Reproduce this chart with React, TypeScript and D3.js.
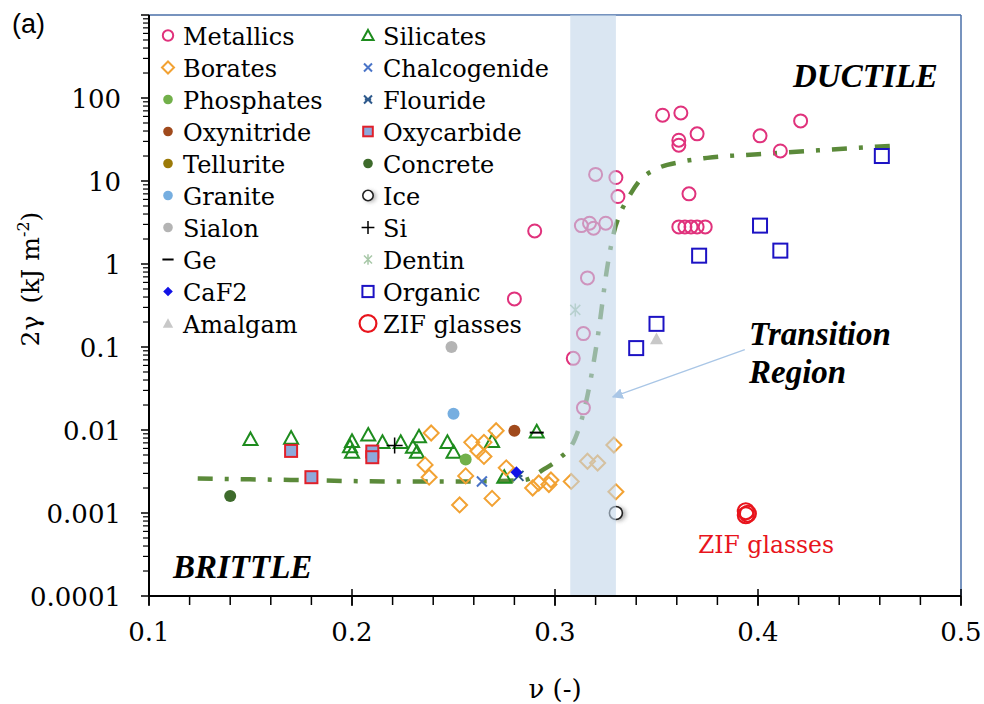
import React from "react";
import * as d3 from "d3";

// nu (-) , 2gamma (kJ m^-2)
const metallics = [
  [0.353, 62], [0.362, 66], [0.361, 31], [0.361, 27], [0.370, 37], [0.401, 35], [0.421, 53], [0.411, 23],
  [0.366, 7], [0.361, 2.8], [0.364, 2.8], [0.367, 2.8], [0.370, 2.8], [0.374, 2.8],
  [0.330, 11], [0.331, 6.5], [0.320, 12], [0.313, 2.9], [0.317, 3.1], [0.319, 2.7], [0.325, 3.1],
  [0.290, 2.5], [0.280, 0.38], [0.316, 0.68], [0.314, 0.145], [0.309, 0.073], [0.314, 0.0185],
];
const borates = [
  [0.239, 0.0092], [0.236, 0.0038], [0.238, 0.0027], [0.259, 0.0071], [0.265, 0.0071], [0.262, 0.0056],
  [0.265, 0.0048], [0.271, 0.0098], [0.256, 0.0028], [0.253, 0.00125], [0.269, 0.0015], [0.276, 0.0035],
  [0.289, 0.0020], [0.292, 0.0023], [0.297, 0.0022], [0.298, 0.0025], [0.308, 0.0024], [0.316, 0.0042],
  [0.321, 0.0040], [0.329, 0.0066], [0.330, 0.0018],
];
const silicates = [
  [0.150, 0.0077], [0.170, 0.0080], [0.200, 0.0073], [0.199, 0.0063], [0.200, 0.0054], [0.208, 0.0087],
  [0.215, 0.0071], [0.224, 0.0071], [0.230, 0.0062], [0.233, 0.0083], [0.232, 0.0054], [0.247, 0.0071],
  [0.250, 0.0054], [0.269, 0.0073], [0.275, 0.0027], [0.291, 0.0095],
];
const phosphates = [[0.256, 0.0044]];
const oxynitride = [[0.280, 0.0098]];
const tellurite: number[][] = [];
const granite = [[0.250, 0.0157]];
const sialon = [[0.249, 0.10]];
const ge = [[0.291, 0.0093]];
const caf2 = [[0.281, 0.0031]];
const amalgam = [[0.350, 0.125]];
const chalcogenide = [[0.264, 0.0024]];
const flouride = [[0.282, 0.0028]];
const oxycarbide = [[0.170, 0.0056], [0.180, 0.0027], [0.210, 0.0055], [0.210, 0.0047]];
const concrete = [[0.140, 0.0016]];
const ice = [[0.330, 0.001]];
const si = [[0.221, 0.0065]];
const dentin = [[0.310, 0.28]];
const organic = [[0.461, 20], [0.401, 2.9], [0.371, 1.26], [0.411, 1.45], [0.350, 0.19], [0.340, 0.097]];
const zif = [[0.394, 0.00105], [0.395, 0.00098], [0.394, 0.00094]];

// dash-dot trend
const trendNu = [0.124, 0.17, 0.22, 0.26, 0.285, 0.294, 0.302, 0.310, 0.313, 0.316, 0.321, 0.326, 0.329, 0.332, 0.336, 0.342, 0.350, 0.362, 0.375, 0.40, 0.43, 0.466];
const trendG = [0.0026, 0.0025, 0.0024, 0.0024, 0.0025, 0.0033, 0.0045, 0.008, 0.013, 0.026, 0.13, 1.0, 2.4, 4.0, 6.2, 10.3, 14, 17, 19, 21, 23.5, 26.5];

const transitionBand = [0.3075, 0.33];
const xTicks = [0.1, 0.2, 0.3, 0.4, 0.5];
const yTicks = [0.0001, 0.001, 0.01, 0.1, 1, 10, 100];
const yTickLabels = ["0.0001", "0.001", "0.01", "0.1", "1", "10", "100"];

const col1 = ["Metallics", "Borates", "Phosphates", "Oxynitride", "Tellurite", "Granite", "Sialon", "Ge", "CaF2", "Amalgam"];
const col2 = ["Silicates", "Chalcogenide", "Flouride", "Oxycarbide", "Concrete", "Ice", "Si", "Dentin", "Organic", "ZIF glasses"];

const seriesData: Record<string, number[][]> = {
  Metallics: metallics, Borates: borates, Phosphates: phosphates, Oxynitride: oxynitride, Tellurite: tellurite,
  Granite: granite, Sialon: sialon, Ge: ge, CaF2: caf2, Amalgam: amalgam, Silicates: silicates,
  Chalcogenide: chalcogenide, Flouride: flouride, Oxycarbide: oxycarbide, Concrete: concrete, Ice: ice,
  Si: si, Dentin: dentin, Organic: organic, "ZIF glasses": zif,
};

const styles: Record<string, { shape: string; color: string }> = {
  Metallics: { shape: "circleOpen", color: "#e0327c" },
  Borates: { shape: "diamondOpen", color: "#f2a233" },
  Phosphates: { shape: "circleFill", color: "#72b04a" },
  Oxynitride: { shape: "circleFill", color: "#a04a1c" },
  Tellurite: { shape: "circleFill", color: "#9c7a08" },
  Granite: { shape: "circleFill", color: "#76aee0" },
  Sialon: { shape: "circleFill", color: "#b4b4b4" },
  Ge: { shape: "dash", color: "#000000" },
  CaF2: { shape: "diamondFill", color: "#1212e6" },
  Amalgam: { shape: "triFill", color: "#c8c8c8" },
  Silicates: { shape: "triOpen", color: "#1e8c1e" },
  Chalcogenide: { shape: "x", color: "#4a74c8" },
  Flouride: { shape: "asterX", color: "#2e5a8c" },
  Oxycarbide: { shape: "redSquare", color: "#e0202a" },
  Concrete: { shape: "circleFill", color: "#3e6b2c" },
  Ice: { shape: "ice", color: "#222222" },
  Si: { shape: "plus", color: "#000000" },
  Dentin: { shape: "aster", color: "#a8c8a8" },
  Organic: { shape: "squareOpen", color: "#1c12c4" },
  "ZIF glasses": { shape: "zif", color: "#e8141c" },
};

const L = 149, R = 961, T = 15, B = 596;
const serif = "'DejaVu Serif', serif";
const serifBI = "'Liberation Serif', serif";

function Marker({ shape, color, s = 1 }: { shape: string; color: string; s?: number }) {
  switch (shape) {
    case "circleOpen":
      return <circle r={6.5 * s} fill="none" stroke={color} strokeWidth={2} />;
    case "circleFill":
      return <circle r={6 * s} fill={color} />;
    case "diamondOpen": {
      const a = 7.5 * s;
      return <path d={`M0,${-a}L${a},0L0,${a}L${-a},0Z`} fill="none" stroke={color} strokeWidth={2} />;
    }
    case "diamondFill": {
      const a = 6 * s;
      return <path d={`M0,${-a}L${a},0L0,${a}L${-a},0Z`} fill={color} />;
    }
    case "triOpen": {
      const a = 7 * s;
      return <path d={`M0,${-a}L${a},${a * 0.8}L${-a},${a * 0.8}Z`} fill="none" stroke={color} strokeWidth={2} />;
    }
    case "triFill": {
      const a = 6.5 * s;
      return <path d={`M0,${-a}L${a},${a * 0.8}L${-a},${a * 0.8}Z`} fill={color} />;
    }
    case "squareOpen": {
      const a = 7 * s;
      return <rect x={-a} y={-a} width={2 * a} height={2 * a} fill="none" stroke={color} strokeWidth={2} />;
    }
    case "redSquare": {
      const a = 6 * s;
      return <rect x={-a} y={-a} width={2 * a} height={2 * a} fill="#8ea9db" stroke={color} strokeWidth={2} />;
    }
    case "x": {
      const a = 5 * s;
      return <path d={`M${-a},${-a}L${a},${a}M${-a},${a}L${a},${-a}`} stroke={color} strokeWidth={2} />;
    }
    case "asterX": {
      const a = 5 * s;
      return <path d={`M${-a},${-a}L${a},${a}M${-a},${a}L${a},${-a}M${-a * 0.8},0L${a * 0.8},0`} stroke={color} strokeWidth={2} />;
    }
    case "aster": {
      const a = 5 * s;
      return <path d={`M${-a},${-a}L${a},${a}M${-a},${a}L${a},${-a}M0,${-a * 1.3}L0,${a * 1.3}`} stroke={color} strokeWidth={1.5} />;
    }
    case "plus": {
      const a = 8 * s;
      return <path d={`M${-a},0L${a},0M0,${-a}L0,${a}`} stroke={color} strokeWidth={1.5} />;
    }
    case "dash": {
      const a = 7 * s;
      return <path d={`M${-a},0L${a},0`} stroke={color} strokeWidth={2} />;
    }
    case "ice":
      return (
        <g>
          <circle cx={3 * s} cy={1} r={7 * s} fill="#777" opacity={0.6} filter="url(#blur)" />
          <circle r={6.5 * s} fill="#fff" stroke={color} strokeWidth={1.6} />
        </g>
      );
    case "zif":
      return <circle r={8 * s} fill="none" stroke={color} strokeWidth={2.2} />;
    default:
      return null;
  }
}

export default function App() {
  const x = d3.scaleLinear().domain([0.1, 0.5]).range([L, R]);
  const y = d3.scaleLog().domain([1e-4, 1e3]).range([B, T]);

  const minorX = d3.range(0.1, 0.5001, 0.02);
  const minorY: number[] = [];
  for (let d = -4; d <= 2; d++) for (let k = 2; k <= 9; k++) minorY.push(k * Math.pow(10, d));

  const trend = d3
    .line<number>()
    .x((_, i) => x(trendNu[i]))
    .y((g) => y(g))
    .curve(d3.curveMonotoneX)(trendG);

  const order = [
    "Silicates", "Oxycarbide", "Concrete", "Si", "Borates", "Phosphates", "Granite", "Sialon", "Oxynitride",
    "Ge", "Chalcogenide", "Flouride", "CaF2", "Tellurite", "Ice", "Dentin", "Amalgam", "Organic", "Metallics", "ZIF glasses",
  ];

  const arrowFrom = [0.3935, 0.093];
  const arrowTo = [0.3285, 0.025];
  const txt = { fontFamily: serif };
  const txtBI = { fontFamily: serifBI, fontWeight: 700, fontStyle: "italic" as const };

  return (
    <div style={{ position: "absolute", left: 0, top: 0 }}>
      <svg width={984} height={704} style={{ display: "block", background: "#fff" }}>
        <defs>
          <filter id="blur" x="-50%" y="-50%" width="200%" height="200%">
            <feGaussianBlur stdDeviation="2" />
          </filter>
          <marker id="arrowHead" viewBox="0 0 10 10" refX="9" refY="5" markerWidth="11" markerHeight="11" markerUnits="userSpaceOnUse" orient="auto">
            <path d="M0,0L10,5L0,10Z" fill="#a9c6e6" />
          </marker>
        </defs>

        {/* frame */}
        <line x1={L} x2={R} y1={T} y2={T} stroke="#4a6fa8" strokeWidth={1.5} />
        <line x1={R} x2={R} y1={T} y2={B} stroke="#4a6fa8" strokeWidth={1.5} />

        {/* trend line */}
        <path d={trend || ""} fill="none" stroke="#5b8a3a" strokeWidth={4.5} strokeDasharray="15,12,4,12" />

        {/* points */}
        {order.map((name) =>
          seriesData[name].map((p, i) => (
            <g key={name + i} transform={`translate(${x(p[0])},${y(p[1])})`}>
              <Marker shape={styles[name].shape} color={styles[name].color} />
            </g>
          ))
        )}

        {/* transition band on top, translucent */}
        <rect
          x={x(transitionBand[0])}
          y={T}
          width={x(transitionBand[1]) - x(transitionBand[0])}
          height={B - T}
          fill="#c1d5e9"
          opacity={0.6}
        />

        {/* arrow */}
        <line
          x1={x(arrowFrom[0])}
          y1={y(arrowFrom[1])}
          x2={x(arrowTo[0])}
          y2={y(arrowTo[1])}
          stroke="#a9c6e6"
          strokeWidth={1.3}
          markerEnd="url(#arrowHead)"
        />

        {/* axes */}
        <line x1={L} x2={L} y1={T} y2={B} stroke="#000" strokeWidth={2} />
        <line x1={L} x2={R} y1={B} y2={B} stroke="#000" strokeWidth={2} />
        {minorY.map((v) => (
          <line key={"my" + v} x1={L - 6} x2={L} y1={y(v)} y2={y(v)} stroke="#000" strokeWidth={1.2} />
        ))}
        {yTicks.concat([1000]).map((v) => (
          <line key={"My" + v} x1={L - 8} x2={L} y1={y(v)} y2={y(v)} stroke="#000" strokeWidth={1.5} />
        ))}
        {minorX.map((v) => (
          <line key={"mx" + v} x1={x(v)} x2={x(v)} y1={B} y2={B + 9} stroke="#000" strokeWidth={1.5} />
        ))}
        {xTicks.map((v) => (
          <line key={"Mx" + v} x1={x(v)} x2={x(v)} y1={B - 7} y2={B + 10} stroke="#000" strokeWidth={1.5} />
        ))}
        {yTicks.map((v, i) => (
          <text key={"yl" + v} x={L - 28} y={y(v) + 10} textAnchor="end" fontSize={26} style={txt}>
            {yTickLabels[i]}
          </text>
        ))}
        {xTicks.map((v) => (
          <text key={"xl" + v} x={x(v)} y={B + 45} textAnchor="middle" fontSize={26} style={txt}>
            {String(v)}
          </text>
        ))}

        {/* axis titles */}
        <text x={555} y={698} textAnchor="middle" fontSize={26} style={txt}>
          ν (-)
        </text>
        <text transform="translate(39,279) rotate(-90)" textAnchor="middle" fontSize={25} style={txt}>
          2γ<tspan dx={12}>(kJ m</tspan>
          <tspan fontSize={16} dy={-10}>-2</tspan>
          <tspan dy={10}>)</tspan>
        </text>
        <text x={12} y={33} fontSize={27} style={{ fontFamily: "'Liberation Sans', Arial, sans-serif" }}>
          (a)
        </text>

        {/* legend */}
        {[col1, col2].map((col, c) =>
          col.map((name, r) => {
            const mx = c === 0 ? 168 : 368;
            const my = 35.5 + 32 * r;
            return (
              <g key={"lg" + name}>
                <g transform={`translate(${mx},${my})`}>
                  <Marker shape={styles[name].shape} color={styles[name].color} s={name === "ZIF glasses" ? 1.05 : 0.8} />
                </g>
                <text x={mx + 15} y={my + 9} fontSize={24} style={txt}>
                  {name}
                </text>
              </g>
            );
          })
        )}

        {/* region labels */}
        <text x={793} y={87} fontSize={33} style={txtBI}>
          DUCTILE
        </text>
        <text x={173} y={578} fontSize={33} style={txtBI}>
          BRITTLE
        </text>
        <text x={749} y={345} fontSize={33} style={txtBI}>
          Transition
        </text>
        <text x={749} y={383} fontSize={33} style={txtBI}>
          Region
        </text>
        <text x={766} y={553} textAnchor="middle" fontSize={23.5} fill="#e8141c" style={txt}>
          ZIF glasses
        </text>
      </svg>
    </div>
  );
}
